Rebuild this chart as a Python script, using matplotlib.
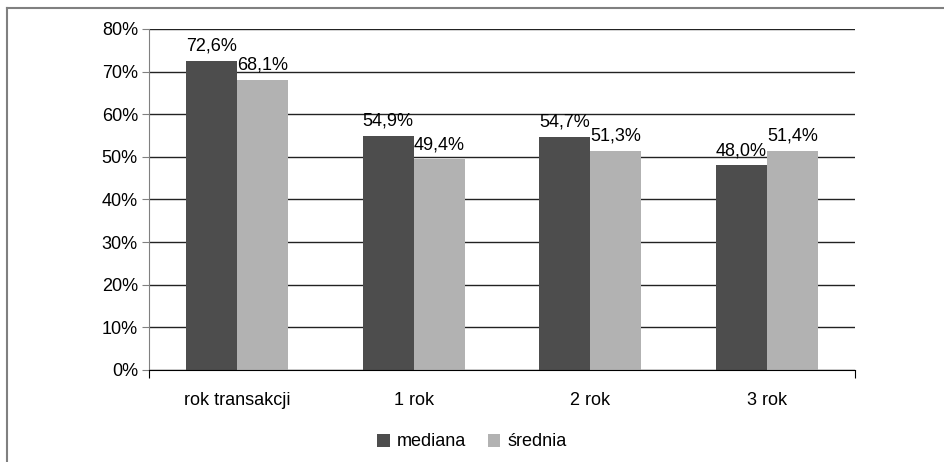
import numpy as np
import matplotlib.pyplot as plt
from matplotlib.lines import Line2D
from matplotlib.ticker import MultipleLocator, FuncFormatter

kategorie = ["rok transakcji", "1 rok", "2 rok", "3 rok"]
mediana = [72.6, 54.9, 54.7, 48.0]
srednia = [68.1, 49.4, 51.3, 51.4]

plt.rcParams['font.family'] = ['Liberation Sans', 'DejaVu Sans']
plt.rcParams['font.size'] = 13

fig = plt.figure(figsize=(9.44, 4.62), dpi=100)
ax = fig.add_axes([149 / 944, 1 - 370 / 462, 706 / 944, 341 / 462])

x = np.arange(len(kategorie))
w = 0.29
b1 = ax.bar(x - w / 2, mediana, w, color='#4d4d4d', label='mediana', zorder=3)
b2 = ax.bar(x + w / 2, srednia, w, color='#b2b2b2', label='średnia', zorder=3)

fmt = lambda v: f"{v:.1f}".replace('.', ',') + '%'
for bars, vals in [(b1, mediana), (b2, srednia)]:
    for r, v in zip(bars, vals):
        ax.text(r.get_x() + r.get_width() / 2, v + 1.5, fmt(v),
                ha='center', va='bottom', zorder=4)

# Konfiguracja osi
ax.set_xlim(-0.5, len(kategorie) - 0.5)
ax.set_ylim(0, 80)
ax.yaxis.set_major_locator(MultipleLocator(10))
ax.yaxis.set_major_formatter(FuncFormatter(lambda v, p: f"{v:.0f}%"))
ax.grid(axis='y', color='#222222', linewidth=1, zorder=0)
ax.set_xticks([-0.5, len(kategorie) - 0.5])
ax.set_xticklabels([])
ax.set_xticks(x, minor=True)
ax.set_xticklabels(kategorie, minor=True)
ax.tick_params(axis='x', which='major', length=6, direction='out', color='black')
ax.tick_params(axis='x', which='minor', length=0, pad=16)
ax.tick_params(axis='y', length=5, direction='out', color='#808080', pad=3)
for s in ['top', 'right']:
    ax.spines[s].set_visible(False)
ax.spines['left'].set_color('#808080')
ax.spines['bottom'].set_color('black')
ax.spines['bottom'].set_zorder(5)

fig.legend(loc='center', bbox_to_anchor=(472 / 944, 1 - 442 / 462), ncol=2,
           frameon=False, handlelength=0.7, handleheight=0.7,
           handletextpad=0.4, columnspacing=1.2)

# ramka wokół wykresu
fig.add_artist(Line2D([7 / 944, 7 / 944], [0, 1 - 7.5 / 462], color='#808080', lw=1.5))
fig.add_artist(Line2D([7 / 944, 1], [1 - 7.5 / 462, 1 - 7.5 / 462], color='#808080', lw=1.5))

fig.savefig('out.png', dpi=100)
